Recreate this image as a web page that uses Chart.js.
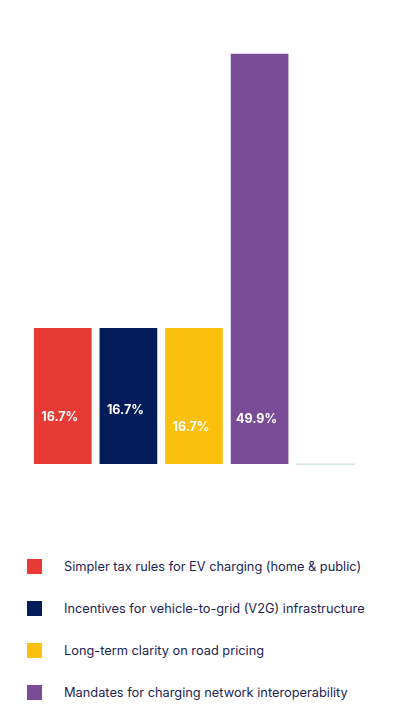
<!DOCTYPE html>
<html>
<head>
<meta charset="utf-8">
<script src="https://cdn.jsdelivr.net/npm/chart.js@4"></script>
<style>
  html, body { margin: 0; padding: 0; background: #fff; }
  body { width: 400px; height: 721px; overflow: hidden; font-family: Inter, Lato, sans-serif; }
  #wrap { position: relative; width: 400px; height: 500px; }
  #legend { list-style: none; margin: 0; padding: 0; position: absolute; left: 27px; top: 559px; }
  #legend li { display: flex; align-items: center; height: 15px; margin-bottom: 27px; color: #1b2554; font-size: 12.8px; white-space: nowrap; }
  #legend span.box { width: 15px; height: 15px; margin-right: 22px; flex: none; }
</style>
</head>
<body>
<div id="wrap"><canvas id="grafico" width="400" height="500"></canvas></div>
<ul id="legend"></ul>
<script>
const categories = [
  "Simpler tax rules for EV charging (home & public)",
  "Incentives for vehicle-to-grid (V2G) infrastructure",
  "Long-term clarity on road pricing",
  "Mandates for charging network interoperability",
  ""
];
const values = [16.7, 16.7, 16.7, 49.9, 0];
const valueLabels = ["16.7%", "16.7%", "16.7%", "49.9%", ""];
const colors = ["#e83a34", "#041c5a", "#fbbf0d", "#7a4c98", "#cfe6e1"];
// height of each value label above the bar base (px)
const labelLift = [48, 55, 38, 46, 0];

const valueLabelPlugin = {
  id: "valueLabels",
  afterDatasetsDraw(chart) {
    const ctx = chart.ctx;
    const meta = chart.getDatasetMeta(0);
    ctx.save();
    ctx.fillStyle = "#fff";
    ctx.font = "bold 12.5px Inter, sans-serif";
    ctx.textAlign = "center";
    ctx.textBaseline = "middle";
    meta.data.forEach((bar, i) => {
      if (!valueLabels[i]) return;
      ctx.fillText(valueLabels[i], bar.x - 3, bar.base - labelLift[i]);
    });
    ctx.restore();
  }
};

const legend = document.getElementById("legend");
categories.slice(0, 4).forEach((c, i) => {
  const li = document.createElement("li");
  li.innerHTML = '<span class="box" style="background:' + colors[i] + '"></span>' + c;
  legend.appendChild(li);
});

new Chart(document.getElementById("grafico").getContext("2d"), {
  type: "bar",
  data: {
    labels: categories,
    datasets: [{
      data: values,
      backgroundColor: colors,
      borderColor: ["rgba(255,255,255,0.35)", "rgba(255,255,255,0.35)", "rgba(255,255,255,0.35)", "rgba(255,255,255,0.35)", "#cfe6e1"],
      borderWidth: [1, 1, 1, 1, 0],
      borderSkipped: false,
      minBarLength: 1.5,
      barPercentage: 0.91,
      categoryPercentage: 1
    }]
  },
  options: {
    responsive: false,
    animation: false,
    layout: { padding: { left: 30, right: 42, top: 52, bottom: 35 } },
    plugins: { legend: { display: false }, tooltip: { enabled: false } },
    scales: {
      x: { display: false },
      y: { display: false, min: 0, max: 50 }
    }
  },
  plugins: [valueLabelPlugin]
});
</script>
</body>
</html>
